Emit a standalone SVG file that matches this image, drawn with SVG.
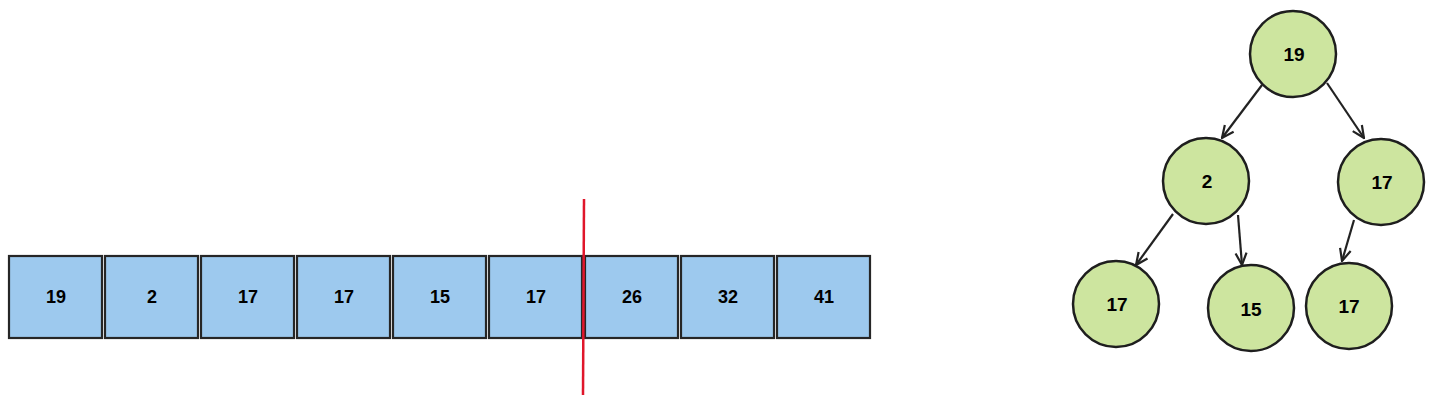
<svg xmlns="http://www.w3.org/2000/svg" width="1432" height="401" viewBox="0 0 1432 401">
<style>
.box{fill:#9dc9ee;stroke:#262626;stroke-width:2.2}
.node{fill:#cde59f;stroke:#1e1e1e;stroke-width:2.5}
.t{font-family:"Liberation Sans",Arial,sans-serif;font-size:18px;font-weight:bold;fill:#000;text-anchor:middle;dominant-baseline:central}
.tn{font-size:19px}
.edge{fill:none;stroke:#222;stroke-width:2.2;marker-end:url(#arr)}
</style>
<defs>
<marker id="arr" viewBox="0 0 14 14" refX="13" refY="7" markerWidth="14" markerHeight="14" markerUnits="userSpaceOnUse" orient="auto">
<path d="M1,1.5 L13,7 L1,12.5" fill="none" stroke="#222" stroke-width="2.2"/>
</marker>
</defs>
<rect width="1432" height="401" fill="#fff"/>
<g id="array">
<g id="a0"><rect class="box" x="9" y="256" width="93" height="82"/><text class="t" x="56" y="297">19</text></g>
<g id="a1"><rect class="box" x="105" y="256" width="93" height="82"/><text class="t" x="152" y="297">2</text></g>
<g id="a2"><rect class="box" x="201" y="256" width="93" height="82"/><text class="t" x="248" y="297">17</text></g>
<g id="a3"><rect class="box" x="297" y="256" width="93" height="82"/><text class="t" x="344" y="297">17</text></g>
<g id="a4"><rect class="box" x="393" y="256" width="93" height="82"/><text class="t" x="440" y="297">15</text></g>
<g id="a5"><rect class="box" x="489" y="256" width="93" height="82"/><text class="t" x="536" y="297">17</text></g>
<g id="a6"><rect class="box" x="585" y="256" width="93" height="82"/><text class="t" x="632" y="297">26</text></g>
<g id="a7"><rect class="box" x="681" y="256" width="93" height="82"/><text class="t" x="728" y="297">32</text></g>
<g id="a8"><rect class="box" x="777" y="256" width="93" height="82"/><text class="t" x="824" y="297">41</text></g>
</g>
<g id="divider"><line x1="584" y1="199" x2="583" y2="395" stroke="#e0162b" stroke-width="2.5"/></g>
<g id="connectors">
<line class="edge" x1="1262" y1="85" x2="1222" y2="138"/>
<line class="edge" x1="1327" y1="83" x2="1364" y2="138"/>
<line class="edge" x1="1173" y1="214" x2="1136" y2="265"/>
<line class="edge" x1="1238" y1="215" x2="1242" y2="265"/>
<line class="edge" x1="1354" y1="220" x2="1342" y2="261"/>
</g>
<g id="n19"><circle class="node" cx="1293" cy="54" r="43"/><text class="t tn" x="1294" y="54">19</text></g>
<g id="n2"><circle class="node" cx="1206" cy="181" r="43"/><text class="t tn" x="1207" y="181">2</text></g>
<g id="n17a"><circle class="node" cx="1381" cy="182" r="43"/><text class="t tn" x="1382" y="182">17</text></g>
<g id="n17b"><circle class="node" cx="1116" cy="304" r="43"/><text class="t tn" x="1117" y="304">17</text></g>
<g id="n15"><circle class="node" cx="1251" cy="308" r="43"/><text class="t tn" x="1251" y="309">15</text></g>
<g id="n17c"><circle class="node" cx="1349" cy="306" r="43"/><text class="t tn" x="1349" y="306">17</text></g>
</svg>
